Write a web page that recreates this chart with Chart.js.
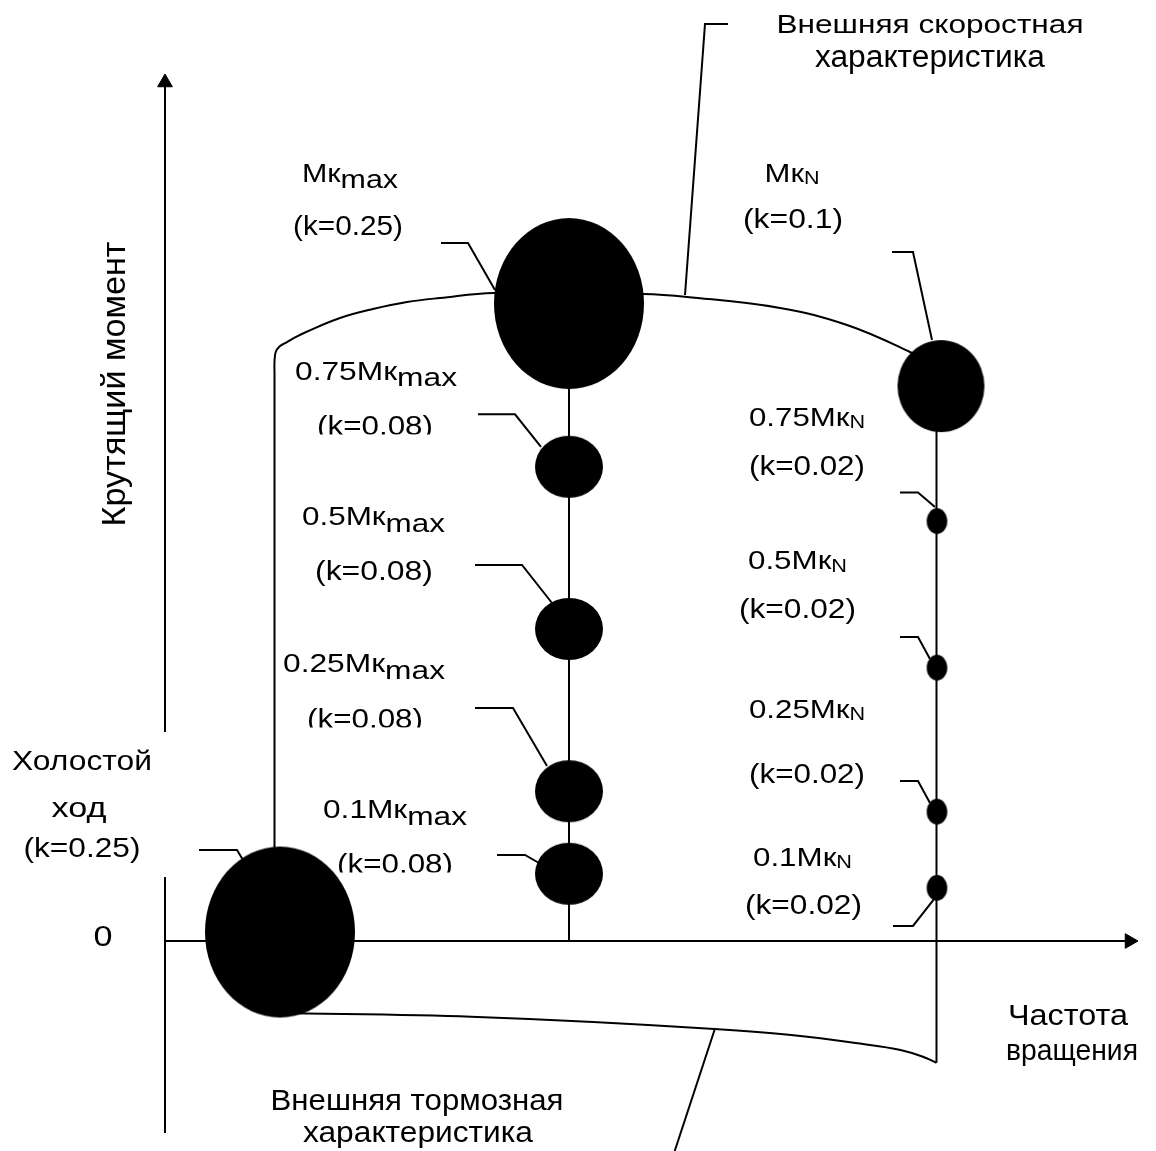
<!DOCTYPE html>
<html>
<head>
<meta charset="utf-8">
<script src="https://cdn.jsdelivr.net/npm/chart.js@4.4.1/dist/chart.umd.min.js"></script>
<style>
html,body{margin:0;padding:0;background:#fff;}
#wrap{width:1156px;height:1151px;position:relative;}
</style>
</head>
<body>
<div id="wrap"><canvas id="c"></canvas></div>
<script>
// ================= DATA =================
// axis ranges (speed in arbitrary %, torque in % of Mk max)
const speedRange = [-16.5, 99.1];
const torqueRange = [-32.8125, 147.03125];

// coordinate axes (end of each axis carries an arrowhead)
const xAxisX = [0, 96.45];
const xAxisY = [0, 0];
const yAxisX = [0, 0];
const yAxisY = [-30, 134.14];

// idle mode point
const idleSpeed = [11.5];
const idleTorque = [1.4];
const idleK = 0.25;

// modes at maximum-torque speed
const maxFactors = ['', '0.75', '0.5', '0.25', '0.1'];
const maxSpeed  = [40.4, 40.4, 40.4, 40.4, 40.4];
const maxTorque = [99.6, 74.1, 48.75, 23.4, 10.5];
const maxK      = [0.25, 0.08, 0.08, 0.08, 0.08];

// modes at rated speed
const ratedFactors = ['', '0.75', '0.5', '0.25', '0.1'];
const ratedSpeed  = [77.6, 77.2, 77.2, 77.2, 77.2];
const ratedTorque = [86.7, 65.6, 42.7, 20.2, 8.3];
const ratedK      = [0.1, 0.02, 0.02, 0.02, 0.02];

// external speed characteristic (vertical branch from idle + curve)
const speedCurveX = [10.95, 10.95, 10.95, 11.07, 11.45, 12.0, 12.83, 14.17, 17.5, 20.8, 24.2, 27.5, 32.9, 47.8, 52.2, 61.5, 68.2, 74.5, 76.5];
const speedCurveY = [14.0, 88.59, 90.47, 92.03, 92.89, 93.41, 94.17, 95.2, 97.34, 98.75, 99.84, 100.47, 101.25, 101.09, 100.63, 98.91, 96.25, 92.03, 90.16];

// external braking characteristic
const brakeCurveX = [11.5, 30.6, 54.95, 62.6, 69.06, 73.55, 75.8, 77.15];
const brakeCurveY = [-11.25, -11.83, -13.75, -14.69, -15.94, -17.03, -18.08, -19.02];

// vertical mode lines
const maxLineX = [40.4, 40.4];
const maxLineY = [0, 99.6];
const ratedLineX = [77.15, 77.15];
const ratedLineY = [-19.02, 86.7];

// texts
const txtSpeedChar = ['Внешняя скоростная', 'характеристика'];
const txtBrakeChar = ['Внешняя тормозная', 'характеристика'];
const txtIdle = ['Холостой', 'ход'];
const txtYAxis = 'Крутящий момент';
const txtXAxis = ['Частота', 'вращения'];
const txtZero = '0';

// ================= STYLE / LAYOUT =================
const FONT = '"Liberation Sans", Arial, Helvetica, sans-serif';
const ellipseByK = {0.25: [75, 85.5], 0.1: [43.5, 46], 0.08: [34, 31], 0.02: [10.3, 12.9]};
const speedAnchorIdx = 14;
const brakeAnchorIdx = 2;
const TITLE_SIZE = 26, K_SIZE = 27;

// offsets (px) relative to the corresponding point: [dx, dy(baseline), width]
const maxLayout = [
  {title: [-219, -121.6, 96],  k: [-221, -68.6, 110], lead: [[-128, -60.6], [-101, -60.6], [-74, -13.6]]},
  {title: [-193, -86.8, 162],  k: [-194, -31.8, 116], clip: -32.3, lead: [[-91, -52.4], [-54, -52.4], [-28, -19.8]]},
  {title: [-195.5, -104, 143], k: [-195, -49, 118],   lead: [[-94, -64], [-47, -64], [-17, -26]]},
  {title: [-205, -119.2, 162], k: [-204, -63.2, 116], clip: -63.7, lead: [[-94, -83.2], [-56, -83.2], [-22, -25.2]]},
  {title: [-174, -55.8, 144],  k: [-174, -0.8, 116],  clip: -1.3, lead: [[-72, -18.8], [-44, -18.8], [-30, -10.8]]}
];
const ratedLayout = [
  {title: [-149, -204.4, 55],   k: [-148, -158.1, 100], lead: [[-49, -134.1], [-28, -134.1], [-9, -46.1]]},
  {title: [-130, -95.5, 116],   k: [-130, -46.6, 116],  lead: [[-37, -28.7], [-19, -28.7], [-2, -14.2]]},
  {title: [-139.5, -98.7, 99],  k: [-139.5, -50.2, 117], lead: [[-37, -30.7], [-19, -30.7], [-7, -8.7]]},
  {title: [-130, -94.2, 116],   k: [-130, -28.8, 116],  lead: [[-37, -30.7], [-19, -30.7], [-7, -8.7]]},
  {title: [-134.5, -22.2, 99],  k: [-133.5, 26.1, 117], lead: [[-44, 38.1], [-24, 38.1], [-2, 10.1]]}
];
const idleLayout = {lines: [[-198, -162, 140], [-201, -115, 55], [-198, -75, 117]], box: [-280, -200, 170, 145],
                    lead: [[-81, -82], [-43, -82], [-37, -72]]};
// [dx, dy, width, fontSize]
const speedLayout = {lines: [[243, -263.7, 307, 26], [243, -230.3, 230, 31]], lead: [[41, -273], [18, -273], [-2, -2]]};
const brakeLayout = {lines: [[-297.5, 81, 293, 29.5], [-296.5, 112.7, 230, 29.5]], lead: [[0, 1], [-39.8, 122]]};

// ================= HELPERS =================
const toPts = (xs, ys) => xs.map((x, i) => ({x: x, y: ys[i]}));
function makeEllipse(rx, ry) {
  const c = document.createElement('canvas');
  c.width = Math.ceil(2 * rx) + 2; c.height = Math.ceil(2 * ry) + 2;
  const g = c.getContext('2d');
  g.fillStyle = '#000';
  g.beginPath(); g.ellipse(c.width / 2, c.height / 2, rx, ry, 0, 0, Math.PI * 2); g.fill();
  return c;
}
const imgCache = {};
function ellipseImg(k) {
  if (!imgCache[k]) { const s = ellipseByK[k]; imgCache[k] = makeEllipse(s[0], s[1]); }
  return imgCache[k];
}
function fitText(ctx, parts, cx, base, w, rot) {
  let nat = 0;
  parts.forEach(p => { ctx.font = p.size + 'px ' + FONT; p.w = ctx.measureText(p.t).width; nat += p.w; });
  const sx = w / nat;
  ctx.save();
  ctx.translate(cx, base);
  if (rot) ctx.rotate(rot);
  ctx.scale(sx, 1);
  ctx.textAlign = 'left'; ctx.textBaseline = 'alphabetic'; ctx.fillStyle = '#000';
  let x = -nat / 2;
  parts.forEach(p => { ctx.font = p.size + 'px ' + FONT; ctx.fillText(p.t, x, p.dy || 0); x += p.w; });
  ctx.restore();
}
function polyline(ctx, pts) {
  ctx.save();
  ctx.strokeStyle = '#000'; ctx.lineWidth = 2; ctx.lineJoin = 'miter'; ctx.lineCap = 'butt';
  ctx.beginPath();
  pts.forEach((p, i) => i ? ctx.lineTo(p[0], p[1]) : ctx.moveTo(p[0], p[1]));
  ctx.stroke();
  ctx.restore();
}

const annotations = {
  id: 'annotations',
  afterDatasetsDraw(chart) {
    const ctx = chart.ctx;
    const metaOf = label => chart.getDatasetMeta(chart.data.datasets.findIndex(d => d.label === label));
    const idleEl = metaOf('idle').data[0];
    const maxEls = metaOf('maxSeries').data;
    const ratedEls = metaOf('ratedSeries').data;
    const spEl = metaOf('speedCurve').data[speedAnchorIdx];
    const brEl = metaOf('brakeCurve').data[brakeAnchorIdx];
    const xEnd = metaOf('xAxis').data[1];
    const yEnd = metaOf('yAxis').data[1];
    const origin = metaOf('xAxis').data[0];

    // idle text box (white, covers the torque axis)
    const b = idleLayout.box;
    ctx.save(); ctx.fillStyle = '#fff';
    ctx.fillRect(idleEl.x + b[0], idleEl.y + b[1], b[2], b[3]);
    ctx.restore();

    // leaders
    const rel = (el, list) => list.map(o => [el.x + o[0], el.y + o[1]]);
    polyline(ctx, rel(idleEl, idleLayout.lead));
    polyline(ctx, rel(spEl, speedLayout.lead));
    polyline(ctx, rel(brEl, brakeLayout.lead));
    maxEls.forEach((el, i) => polyline(ctx, rel(el, maxLayout[i].lead)));
    ratedEls.forEach((el, i) => polyline(ctx, rel(el, ratedLayout[i].lead)));

    // group labels
    function groupText(el, lay, titleParts, kText) {
      fitText(ctx, titleParts, el.x + lay.title[0], el.y + lay.title[1], lay.title[2]);
      ctx.save();
      if (lay.clip !== undefined) { ctx.beginPath(); ctx.rect(0, 0, chart.width, el.y + lay.clip); ctx.clip(); }
      fitText(ctx, [{t: kText, size: K_SIZE}], el.x + lay.k[0], el.y + lay.k[1], lay.k[2]);
      ctx.restore();
    }
    maxEls.forEach((el, i) => groupText(el, maxLayout[i],
      [{t: maxFactors[i] + 'Мк', size: TITLE_SIZE}, {t: 'max', size: TITLE_SIZE, dy: 6.5}], '(k=' + maxK[i] + ')'));
    ratedEls.forEach((el, i) => groupText(el, ratedLayout[i],
      [{t: ratedFactors[i] + 'Мк', size: TITLE_SIZE}, {t: 'N', size: 18, dy: 2.7}], '(k=' + ratedK[i] + ')'));

    // idle label
    const il = idleLayout.lines;
    fitText(ctx, [{t: txtIdle[0], size: 27}], idleEl.x + il[0][0], idleEl.y + il[0][1], il[0][2]);
    fitText(ctx, [{t: txtIdle[1], size: 27}], idleEl.x + il[1][0], idleEl.y + il[1][1], il[1][2]);
    fitText(ctx, [{t: '(k=' + idleK + ')', size: K_SIZE}], idleEl.x + il[2][0], idleEl.y + il[2][1], il[2][2]);

    // characteristic labels
    speedLayout.lines.forEach((l, i) => fitText(ctx, [{t: txtSpeedChar[i], size: l[3]}], spEl.x + l[0], spEl.y + l[1], l[2]));
    brakeLayout.lines.forEach((l, i) => fitText(ctx, [{t: txtBrakeChar[i], size: l[3]}], brEl.x + l[0], brEl.y + l[1], l[2]));

    // axis labels
    fitText(ctx, [{t: txtZero, size: 29}], origin.x - 62, origin.y + 5, 19);
    fitText(ctx, [{t: txtXAxis[0], size: 30}], xEnd.x - 61.5, xEnd.y + 84, 120);
    fitText(ctx, [{t: txtXAxis[1], size: 30}], xEnd.x - 57.5, xEnd.y + 119, 132);
    fitText(ctx, [{t: txtYAxis, size: 34}], yEnd.x - 40, yEnd.y + 301.5, 285, -Math.PI / 2);
  }
};

const lineDs = (label, xs, ys, extra) => Object.assign({
  label: label, data: toPts(xs, ys), showLine: true, borderColor: '#000', borderWidth: 2,
  pointRadius: 0, fill: false, tension: 0, order: 2, clip: false
}, extra || {});

const chart = new Chart(document.getElementById('c'), {
  type: 'scatter',
  data: {
    datasets: [
      lineDs('xAxis', xAxisX, xAxisY, {pointRadius: [0, 8.5], pointStyle: 'triangle', pointRotation: 90,
        pointBackgroundColor: '#000', pointBorderColor: '#000', pointBorderWidth: 1}),
      lineDs('yAxis', yAxisX, yAxisY, {pointRadius: [0, 8.5], pointStyle: 'triangle', pointRotation: 0,
        pointBackgroundColor: '#000', pointBorderColor: '#000', pointBorderWidth: 1}),
      lineDs('speedCurve', speedCurveX, speedCurveY, {tension: 0.4}),
      lineDs('brakeCurve', brakeCurveX, brakeCurveY, {cubicInterpolationMode: 'monotone'}),
      lineDs('maxLine', maxLineX, maxLineY),
      lineDs('ratedLine', ratedLineX, ratedLineY),
      {label: 'idle', data: toPts(idleSpeed, idleTorque), pointRadius: 1, order: 0, clip: false,
        pointStyle: () => ellipseImg(idleK)},
      {label: 'maxSeries', data: toPts(maxSpeed, maxTorque), pointRadius: 1, order: 0, clip: false,
        pointStyle: c => ellipseImg(maxK[c.dataIndex])},
      {label: 'ratedSeries', data: toPts(ratedSpeed, ratedTorque), pointRadius: 1, order: 0, clip: false,
        pointStyle: c => ellipseImg(ratedK[c.dataIndex])}
    ]
  },
  options: {
    responsive: true,
    maintainAspectRatio: false,
    devicePixelRatio: 1,
    animation: false,
    events: [],
    layout: {padding: 0, autoPadding: false},
    scales: {
      x: {type: 'linear', min: speedRange[0], max: speedRange[1], display: false},
      y: {type: 'linear', min: torqueRange[0], max: torqueRange[1], display: false}
    },
    plugins: {legend: {display: false}, tooltip: {enabled: false}, title: {display: false}}
  },
  plugins: [annotations]
});
</script>
</body>
</html>
